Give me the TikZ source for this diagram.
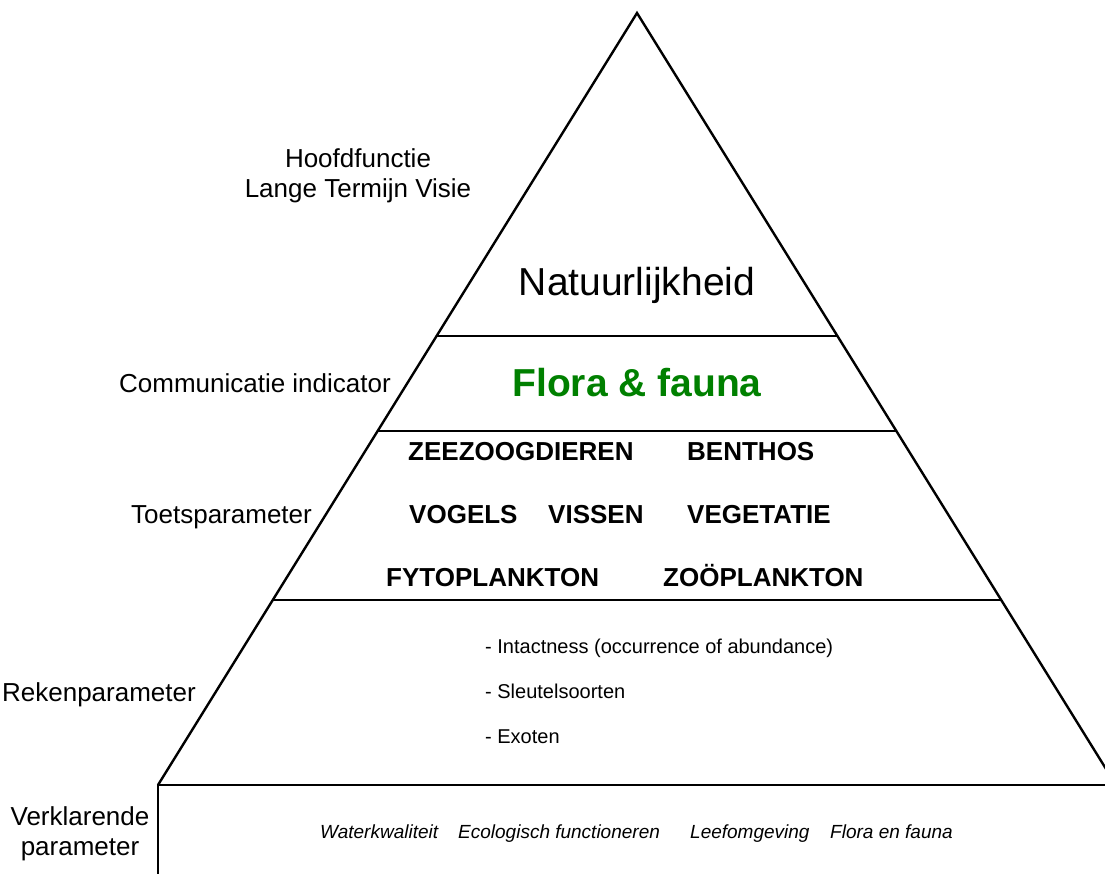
\documentclass[tikz,border=0pt]{standalone}
\usepackage{fontspec}
\setmainfont{Liberation Sans}
\usetikzlibrary{calc}
\definecolor{floragreen}{RGB}{0,128,0}
\newcommand{\labelSize}[0]{\fontsize{26}{30}\selectfont}
\newcommand{\layerCut}[3]{%
  \coordinate (#1l) at ($(top)!#2!(bl)$);
  \coordinate (#1r) at ($(top)!#2!(br)$);
  \draw[layer] (#1l) -- (#1r);}

\begin{document}
\begin{tikzpicture}[x=1pt, y=-1pt]
  \tikzset{
    side label/.style={font=\labelSize, align=center, inner sep=0pt},
    level title/.style={font=\fontsize{39}{44}\selectfont, inner sep=0pt},
    taxon/.style={font=\bfseries\labelSize, anchor=base west, inner sep=0pt},
    reken item/.style={font=\fontsize{20}{24}\selectfont, anchor=base west, inner sep=0pt},
    verklarend/.style={font=\itshape\fontsize{19}{23}\selectfont, anchor=base west, inner sep=0pt},
    pyramid/.style={line width=2.4pt, line join=miter},
    layer/.style={line width=1.8pt}
  }
  \useasboundingbox (0,0) rectangle (1105,874);
  \clip (0,0) rectangle (1105,874);

  \coordinate (top) at (637,13);
  \coordinate (bl) at (158,785);
  \coordinate (br) at (1116,785);
  \coordinate (boxfoot) at (158,874);
  \draw[pyramid] (bl) -- (top) -- (br);
  \draw[pyramid] (boxfoot) -- (bl) -- (br);
  \layerCut{natuur}{0.418}{}
  \layerCut{indic}{0.5415}{}
  \layerCut{toets}{0.760}{}

  % side labels
  \node[side label] (hoofd) at (358,176) {Hoofdfunctie\\Lange Termijn Visie};
  \node[side label, anchor=base east] (comm) at (391,392) {Communicatie indicator};
  \node[side label, anchor=base east] (toetslbl) at (312,523) {Toetsparameter};
  \node[side label, anchor=base east] (rekenlbl) at (196,701) {Rekenparameter};
  \node[side label] (verklbl) at (80,834) {Verklarende\\parameter};

  % pyramid contents
  \node[level title] (natuurlijk) at (637,285) {Natuurlijkheid};
  \node[level title, font=\bfseries\fontsize{39}{44}\selectfont, text=floragreen] (florafauna) at (637,383) {Flora \& fauna};

  \node[taxon] (zeezoog) at (408,460) {ZEEZOOGDIEREN};
  \node[taxon] (benthos) at (687,460) {BENTHOS};
  \node[taxon] (vogels) at (409,523) {VOGELS};
  \node[taxon] (vissen) at (548,523) {VISSEN};
  \node[taxon] (vegetatie) at (687,523) {VEGETATIE};
  \node[taxon] (fyto) at (386,586) {FYTOPLANKTON};
  \node[taxon] (zoo) at (663,586) {ZOÖPLANKTON};

  \node[reken item] (intact) at (485,653) {- Intactness (occurrence of abundance)};
  \node[reken item] (sleutel) at (485,698) {- Sleutelsoorten};
  \node[reken item] (exoten) at (485,743) {- Exoten};

  \node[verklarend] (water) at (320,838) {Waterkwaliteit};
  \node[verklarend] (ecofunc) at (458,838) {Ecologisch functioneren};
  \node[verklarend] (leef) at (690,838) {Leefomgeving};
  \node[verklarend] (floraen) at (830,838) {Flora en fauna};
\end{tikzpicture}
\end{document}
